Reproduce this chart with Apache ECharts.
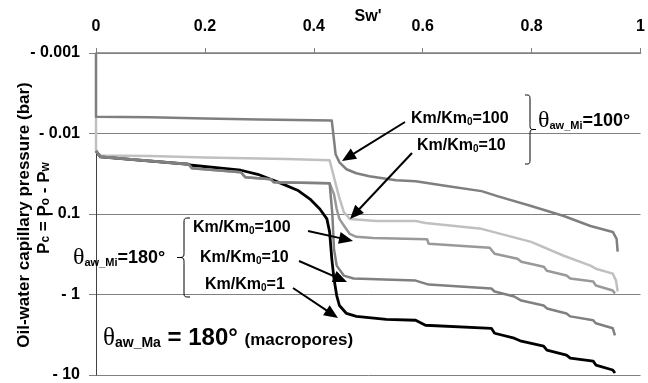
<!DOCTYPE html>
<html>
<head>
<meta charset="utf-8">
<script src="https://cdn.jsdelivr.net/npm/echarts@6/dist/echarts.min.js"></script>
<style>
  html, body { margin: 0; padding: 0; background: #fff; }
  #chart { width: 648px; height: 383px; }
</style>
</head>
<body>
<div id="chart"></div>
<script>
// Effective water saturation Sw' (x) vs. oil-water capillary pressure magnitude |Pc| in bar (y, log)
const xTickLabels = ['0', '0.2', '0.4', '0.6', '0.8', '1'];
const yTickLabels = ['- 0.001', '- 0.01', '- 0.1', '- 1', '- 10'];

// theta_aw_Mi = 100 deg, Km/Km0 = 100
const pcMi100Km100 = [
  [0, 0.001], [0, 0.0062], [0.1, 0.0063], [0.2, 0.0065], [0.3, 0.0067], [0.433, 0.0069],
  [0.437, 0.0119], [0.440, 0.0181], [0.447, 0.0228], [0.460, 0.0278], [0.478, 0.0312],
  [0.502, 0.034], [0.551, 0.038], [0.587, 0.0392], [0.647, 0.0451], [0.708, 0.052],
  [0.737, 0.060], [0.799, 0.0796], [0.859, 0.106], [0.908, 0.141], [0.949, 0.167],
  [0.956, 0.204], [0.958, 0.294]
];
// theta_aw_Mi = 100 deg, Km/Km0 = 10
const pcMi100Km10 = [
  [0, 0.0062], [0, 0.0165], [0.008, 0.0187], [0.1, 0.019], [0.2, 0.0198], [0.35, 0.0208],
  [0.429, 0.0215], [0.438, 0.037], [0.446, 0.060], [0.455, 0.0944], [0.466, 0.115],
  [0.514, 0.122], [0.587, 0.122], [0.605, 0.129], [0.708, 0.153], [0.799, 0.222],
  [0.859, 0.330], [0.908, 0.438], [0.918, 0.478], [0.949, 0.551], [0.955, 0.672],
  [0.958, 0.918]
];
// theta_aw_Mi = 180 deg, Km/Km0 = 100
const pcMi180Km100 = [
  [0, 0.0165], [0.008, 0.0195], [0.170, 0.0241], [0.176, 0.027], [0.266, 0.0303],
  [0.274, 0.0349], [0.321, 0.037], [0.326, 0.0403], [0.429, 0.0414], [0.437, 0.0566],
  [0.442, 0.0867], [0.447, 0.115], [0.457, 0.145], [0.466, 0.177], [0.478, 0.192],
  [0.509, 0.198], [0.587, 0.204], [0.608, 0.206], [0.611, 0.235], [0.723, 0.262],
  [0.726, 0.271], [0.732, 0.312], [0.774, 0.360], [0.781, 0.392], [0.822, 0.451],
  [0.828, 0.506], [0.864, 0.582], [0.871, 0.634], [0.913, 0.691], [0.918, 0.774],
  [0.949, 0.893], [0.953, 0.972]
];
// theta_aw_Mi = 180 deg, Km/Km0 = 10
const pcMi180Km10 = [
  [0, 0.0165], [0.008, 0.0195], [0.170, 0.0241], [0.176, 0.027], [0.266, 0.0303],
  [0.274, 0.0349], [0.321, 0.037], [0.326, 0.0403], [0.429, 0.0414], [0.434, 0.1],
  [0.437, 0.271], [0.442, 0.438], [0.455, 0.582], [0.473, 0.634], [0.587, 0.672],
  [0.611, 0.753], [0.726, 0.843], [0.732, 0.918], [0.768, 1.06], [0.781, 1.19],
  [0.822, 1.37], [0.828, 1.49], [0.864, 1.72], [0.871, 1.87], [0.913, 2.09],
  [0.918, 2.28], [0.949, 2.63], [0.953, 3.21]
];
// theta_aw_Mi = 180 deg, Km/Km0 = 1
const pcMi180Km1 = [
  [0, 0.0165], [0.008, 0.0195], [0.170, 0.0241], [0.176, 0.0248], [0.266, 0.0286],
  [0.297, 0.0321], [0.321, 0.037], [0.339, 0.0414], [0.370, 0.0506], [0.393, 0.0653],
  [0.411, 0.0867], [0.424, 0.115], [0.429, 0.167], [0.433, 0.360], [0.437, 0.634],
  [0.442, 1.03], [0.447, 1.37], [0.460, 1.72], [0.478, 1.87], [0.533, 2.04],
  [0.587, 2.09], [0.605, 2.41], [0.726, 2.63], [0.732, 3.03], [0.768, 3.49],
  [0.781, 3.80], [0.822, 4.39], [0.828, 4.91], [0.864, 5.66], [0.871, 6.17],
  [0.913, 6.72], [0.918, 7.53], [0.949, 8.67], [0.953, 9.44]
];

const SANS = '"Liberation Sans", Arial, sans-serif';
const SERIF = '"Liberation Serif", "Times New Roman", serif';

const chart = echarts.init(document.getElementById('chart'), null, { renderer: 'canvas' });

function lineSeries(data, color, width, z) {
  return {
    type: 'line', data: data, showSymbol: false, symbol: 'none', z: z,
    lineStyle: { color: color, width: width, cap: 'butt', join: 'round' },
    silent: true, animation: false
  };
}

// rich-text styles for annotations with subscripts
const richBase = {
  a: { fontFamily: SANS, fontWeight: 'bold', fontSize: 16, fill: '#000', lineHeight: 20 },
  s: { fontFamily: SANS, fontWeight: 'bold', fontSize: 10, fill: '#000', lineHeight: 20, verticalAlign: 'bottom', padding: [0, 0, 2, 0] },
  t: { fontFamily: SERIF, fontSize: 24, fill: '#000', lineHeight: 20 },
  u: { fontFamily: SANS, fontWeight: 'bold', fontSize: 11, fill: '#000', lineHeight: 20, verticalAlign: 'bottom', padding: [0, 0, 0, 0] },
  e: { fontFamily: SANS, fontWeight: 'bold', fontSize: 18, fill: '#000', lineHeight: 20 },
  big: { fontFamily: SANS, fontWeight: 'bold', fontSize: 24, fill: '#000', lineHeight: 24 },
  t2: { fontFamily: SERIF, fontSize: 25, fill: '#000', lineHeight: 24 },
  u2: { fontFamily: SANS, fontWeight: 'bold', fontSize: 14, fill: '#000', lineHeight: 24, verticalAlign: 'bottom', padding: [0, 0, 0, 0] },
  m: { fontFamily: SANS, fontWeight: 'bold', fontSize: 17, fill: '#000', lineHeight: 24, verticalAlign: 'bottom', padding: [0, 0, 1, 0] }
};

function label(text, x, y, align) {
  return {
    type: 'text', z: 100,
    style: { text: text, x: x, y: y, align: align || 'left', verticalAlign: 'middle', rich: richBase }
  };
}

function arrow(x1, y1, x2, y2) {
  const dx = x2 - x1, dy = y2 - y1, L = Math.hypot(dx, dy);
  const ux = dx / L, uy = dy / L, hl = 14, hw = 6;
  const bx = x2 - ux * hl, by = y2 - uy * hl;
  return [
    { type: 'line', z: 100, shape: { x1: x1, y1: y1, x2: bx + ux * 2, y2: by + uy * 2 }, style: { stroke: '#000', lineWidth: 2 } },
    { type: 'polygon', z: 100, shape: { points: [[x2, y2], [bx - uy * hw, by + ux * hw], [bx + uy * hw, by - ux * hw]] }, style: { fill: '#000' } }
  ];
}

// curly brace: ends at xEnd, spine at xMid, point at xTip
function brace(xEnd, xMid, xTip, yTop, yBot) {
  const yc = (yTop + yBot) / 2, st = { stroke: '#000', lineWidth: 1, fill: null };
  const r = 6;
  const els = [];
  const bc = (x1, y1, cx1, cy1, cx2, cy2, x2, y2) => ({
    type: 'bezierCurve', z: 100,
    shape: { x1: x1, y1: y1, cpx1: cx1, cpy1: cy1, cpx2: cx2, cpy2: cy2, x2: x2, y2: y2 }, style: st
  });
  els.push(bc(xEnd, yTop, xMid, yTop, xMid, yTop, xMid, yTop + r));
  els.push({ type: 'line', z: 100, shape: { x1: xMid, y1: yTop + r, x2: xMid, y2: yc - r }, style: st });
  els.push(bc(xMid, yc - r, xMid, yc, xMid, yc, xTip, yc));
  els.push(bc(xTip, yc, xMid, yc, xMid, yc, xMid, yc + r));
  els.push({ type: 'line', z: 100, shape: { x1: xMid, y1: yc + r, x2: xMid, y2: yBot - r }, style: st });
  els.push(bc(xMid, yBot - r, xMid, yBot, xMid, yBot, xEnd, yBot));
  return els;
}

const graphics = [].concat(
  [
    // x-axis name
    { type: 'text', z: 100, style: { text: "Sw'", x: 368, y: 17, align: 'center', verticalAlign: 'middle',
      font: 'bold 16px ' + SANS, fill: '#000' } },
    // y-axis title, two rotated lines
    { type: 'text', z: 100, x: 24, y: 215, rotation: Math.PI / 2,
      style: { text: 'Oil-water capillary pressure (bar)', x: 0, y: 0, align: 'center', verticalAlign: 'middle',
        font: 'bold 17px ' + SANS, fill: '#000' } },
    { type: 'text', z: 100, x: 44, y: 208, rotation: Math.PI / 2,
      style: { text: '{a|P}{s|c}{a| = P}{s|o}{a| - P}{s|w}', x: 0, y: 0, align: 'center', verticalAlign: 'middle',
        rich: Object.assign({}, richBase, {
          a: { fontFamily: SANS, fontWeight: 'bold', fontSize: 17, fill: '#000', lineHeight: 20 },
          s: { fontFamily: SANS, fontWeight: 'bold', fontSize: 12, fill: '#000', lineHeight: 20, verticalAlign: 'bottom', padding: [0, 0, 2, 0] }
        }) } },

    // theta_aw_Mi = 100 group
    label('{a|Km/Km}{s|0}{a|=100}', 411, 119),
    label('{a|Km/Km}{s|0}{a|=10}', 417, 146),
    label('{t|θ}{u|aw_Mi}{e|=100°}', 538, 121),

    // theta_aw_Mi = 180 group
    label('{t|θ}{u|aw_Mi}{e|=180°}', 73, 258),
    label('{a|Km/Km}{s|0}{a|=100}', 193, 228),
    label('{a|Km/Km}{s|0}{a|=10}', 200, 258),
    label('{a|Km/Km}{s|0}{a|=1}', 205, 285),

    // macropores
    label('{t2|θ}{u2|aw_Ma}{big| = 180° }{m|(macropores)}', 103, 338)
  ],
  brace(525, 530, 536, 95, 164),
  brace(190, 184, 177, 218, 297),
  arrow(405, 122, 342, 161),
  arrow(412, 153, 350, 219),
  arrow(308, 231, 353, 241),
  arrow(299, 261, 347, 282),
  arrow(293, 288, 338, 318)
);

const option = {
  animation: false,
  backgroundColor: '#fff',
  grid: { left: 96, right: 1, top: 53, bottom: 6, containLabel: false },
  xAxis: {
    type: 'value', position: 'top', min: 0, max: 1, interval: 0.2,
    axisLine: { show: true, onZero: false, lineStyle: { color: '#808080', width: 1.5 } },
    axisTick: { show: true, inside: false, length: 5, lineStyle: { color: '#808080', width: 1 } },
    axisLabel: {
      margin: 18, fontFamily: SANS, fontWeight: 'bold', fontSize: 16, color: '#000',
      formatter: v => xTickLabels[Math.round(v / 0.2)]
    },
    splitLine: { show: false }
  },
  yAxis: {
    type: 'log', logBase: 10, min: 0.001, max: 10, inverse: true,
    axisLine: { show: true, onZero: false, lineStyle: { color: '#404040', width: 1 } },
    axisTick: { show: true, inside: false, length: 7, lineStyle: { color: '#808080', width: 1 } },
    axisLabel: {
      margin: 16, fontFamily: SANS, fontWeight: 'bold', fontSize: 16, color: '#000',
      formatter: v => yTickLabels[Math.round(Math.log10(v)) + 3]
    },
    splitLine: { show: true, lineStyle: { color: '#808080', width: 1 } },
    minorTick: { show: false }, minorSplitLine: { show: false }
  },
  series: [
    lineSeries(pcMi100Km10, '#c0c0c0', 2.5, 2),
    lineSeries(pcMi100Km100, '#7f7f7f', 2.5, 3),
    lineSeries(pcMi180Km1, '#000000', 2.8, 4),
    lineSeries(pcMi180Km100, '#999999', 2.5, 5),
    lineSeries(pcMi180Km10, '#808080', 2.5, 6)
  ],
  graphic: graphics
};

chart.setOption(option);
</script>
</body>
</html>
